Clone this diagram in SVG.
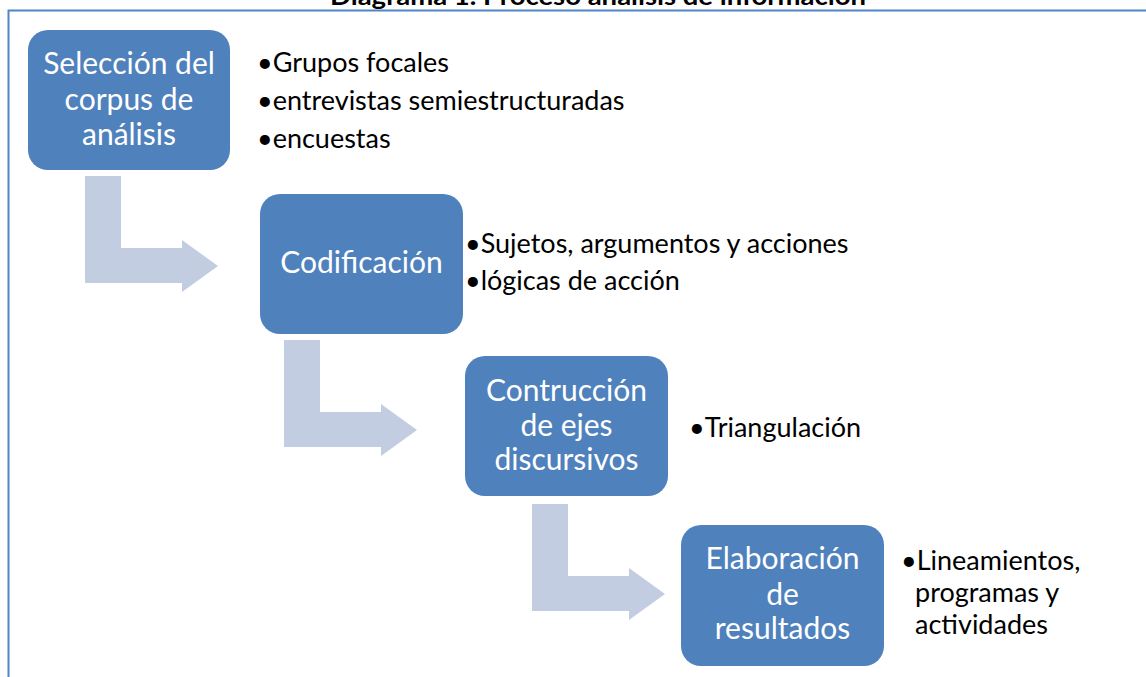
<svg xmlns="http://www.w3.org/2000/svg" width="1146" height="677" viewBox="0 0 1146 677">
<style>
.box{fill:#4F81BD;}
.btxt{font-family:Lato,"Open Sans",sans-serif;font-size:30px;fill:#FFFFFF;text-anchor:middle;}
.lst{font-family:Lato,"Open Sans",sans-serif;font-size:27px;fill:#000000;}
.arr{fill:#C3CDE2;}
.frame{fill:none;stroke:#4F86C6;stroke-width:2;}
.title{font-family:Lato,"Liberation Sans",sans-serif;font-weight:bold;font-size:25px;fill:#000000;text-anchor:middle;}
</style>
<rect width="1146" height="677" fill="#FFFFFF"/>
<text class="title" x="598" y="5" textLength="536" lengthAdjust="spacingAndGlyphs">Diagrama 1. Proceso análisis de información</text>
<path class="frame" d="M8.5,677 V10.5 H1146"/>
<g id="connectors">
<path class="arr" d="M85,176 H121 V248 H182 V240 L218,266 L182,292 V283 H85 Z"/>
<path class="arr" d="M284,340 H320 V412 H381 V404 L417,430 L381,456 V447 H284 Z"/>
<path class="arr" d="M532,504 H568 V576 H629 V568 L665,594 L629,620 V611 H532 Z"/>
</g>
<g id="node1">
<rect class="box" x="28" y="30" width="202" height="140" rx="20"/>
<text class="btxt" x="129" y="74">Selección del</text>
<text class="btxt" x="129" y="110">corpus de</text>
<text class="btxt" x="129" y="145">análisis</text>
</g>
<g id="list1">
<text class="lst" x="257" y="72">•Grupos focales</text>
<text class="lst" x="257" y="110">•entrevistas semiestructuradas</text>
<text class="lst" x="257" y="148">•encuestas</text>
</g>
<g id="node2">
<rect class="box" x="260" y="194" width="203" height="140" rx="20"/>
<text class="btxt" x="361.5" y="273">Codificación</text>
</g>
<g id="list2">
<text class="lst" x="465" y="253">•Sujetos, argumentos y acciones</text>
<text class="lst" x="465" y="290">•lógicas de acción</text>
</g>
<g id="node3">
<rect class="box" x="465" y="356" width="203" height="140" rx="20"/>
<text class="btxt" x="566.5" y="401">Contrucción</text>
<text class="btxt" x="566.5" y="436">de ejes</text>
<text class="btxt" x="566.5" y="470">discursivos</text>
</g>
<g id="list3">
<text class="lst" x="689" y="437">•Triangulación</text>
</g>
<g id="node4">
<rect class="box" x="681" y="525" width="203" height="141" rx="20"/>
<text class="btxt" x="782.5" y="569">Elaboración</text>
<text class="btxt" x="782.5" y="605">de</text>
<text class="btxt" x="782.5" y="639">resultados</text>
</g>
<g id="list4">
<text class="lst" x="901" y="570">•Lineamientos,</text>
<text class="lst" x="915" y="602">programas y</text>
<text class="lst" x="915" y="634">actividades</text>
</g>
</svg>
